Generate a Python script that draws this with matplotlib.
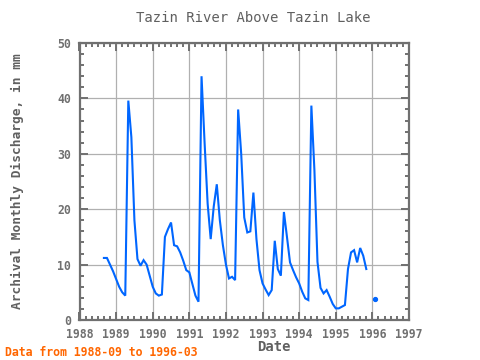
import numpy as np
import matplotlib
matplotlib.use("Agg")
import matplotlib.pyplot as plt
from matplotlib.ticker import MultipleLocator

# monthly discharge (mm), 1988-09 .. 1996-03, NaN = missing
start_year, start_month = 1988, 9
flow_1988 = [11.2, 11.2, 10.0, 8.8]
flow_1989 = [7.4, 6.0, 5.0, 4.4, 39.6, 33.0, 18.0, 11.0, 9.8, 10.8, 10.0, 8.0]
flow_1990 = [6.0, 4.8, 4.4, 4.6, 15.0, 16.4, 17.6, 13.5, 13.3, 12.2, 10.7, 9.0]
flow_1991 = [8.6, 6.5, 4.4, 3.3, 44.0, 32.0, 21.0, 14.6, 20.5, 24.5, 18.0, 13.5]
flow_1992 = [10.0, 7.5, 7.8, 7.2, 38.0, 30.0, 18.5, 15.8, 16.0, 23.0, 14.6, 9.0]
flow_1993 = [6.6, 5.5, 4.5, 5.4, 14.3, 9.2, 8.0, 19.5, 15.0, 10.4, 9.0, 7.7]
flow_1994 = [6.6, 5.1, 3.9, 3.6, 38.7, 27.0, 10.5, 5.8, 4.8, 5.4, 4.2, 2.9]
flow_1995 = [2.1, 2.1, 2.4, 2.7, 9.2, 12.2, 12.6, 10.4, 13.0, 11.6, 9.2, np.nan]
flow_1996 = [np.nan, 3.75, np.nan]

flow = np.array(flow_1988 + flow_1989 + flow_1990 + flow_1991 + flow_1992
                + flow_1993 + flow_1994 + flow_1995 + flow_1996)
idx = np.arange(len(flow)) + (start_month - 1)
dates = start_year + idx / 12.0

grey = "#707070"
blue = "#0066ff"

fig = plt.figure(figsize=(4.8, 3.6), dpi=100)
ax = fig.add_axes([79.5 / 480, 1 - 320 / 360, (409 - 79.5) / 480, (320 - 43) / 360])

ax.plot(dates, flow, color=blue, linewidth=1.5, solid_joinstyle="miter")
# isolated months (no neighbour) drawn as dots
for i in range(len(flow)):
    prev_ok = i > 0 and not np.isnan(flow[i - 1])
    next_ok = i < len(flow) - 1 and not np.isnan(flow[i + 1])
    if not np.isnan(flow[i]) and not prev_ok and not next_ok:
        ax.plot(dates[i], flow[i], "o", color=blue, markersize=2.8)

ax.set_xlim(1988, 1997)
ax.set_ylim(0, 50)
ax.xaxis.set_major_locator(MultipleLocator(1))
ax.xaxis.set_minor_locator(MultipleLocator(1 / 6))
ax.yaxis.set_major_locator(MultipleLocator(10))
ax.yaxis.set_minor_locator(MultipleLocator(2))
ax.grid(True, which="major", color="#b0b0b0", linewidth=0.9)
ax.set_axisbelow(True)

mono = "DejaVu Sans Mono"
ax.tick_params(which="both", direction="in", top=True, right=True,
               colors=grey, width=1.4, labelsize=8.3, pad=6)
ax.tick_params(which="major", length=6)
ax.tick_params(which="minor", length=3)
for lab in ax.get_xticklabels() + ax.get_yticklabels():
    lab.set_fontfamily(mono)
    lab.set_fontweight("bold")
for spine in ax.spines.values():
    spine.set_color(grey)
    spine.set_linewidth(1.6)

fig.text(253 / 480, 1 - 18 / 360, "Tazin River Above Tazin Lake", ha="center",
         va="center", family=mono, fontsize=10, color="#606060")
fig.text(274 / 480, 1 - 347 / 360, "Date", ha="center", va="center",
         family=mono, fontsize=10, fontweight="bold", color="#606060")
fig.text(17 / 480, 1 - 181 / 360, "Archival Monthly Discharge, in mm",
         ha="center", va="center", rotation=90, family=mono, fontsize=9.3,
         fontweight="bold", color="#606060")
fig.text(5 / 480, 1 - 352 / 360, "Data from 1988-09 to 1996-03", ha="left",
         va="center", family=mono, fontsize=8.3, fontweight="bold",
         color="#ff6600")

fig.savefig("out.png", dpi=100)
